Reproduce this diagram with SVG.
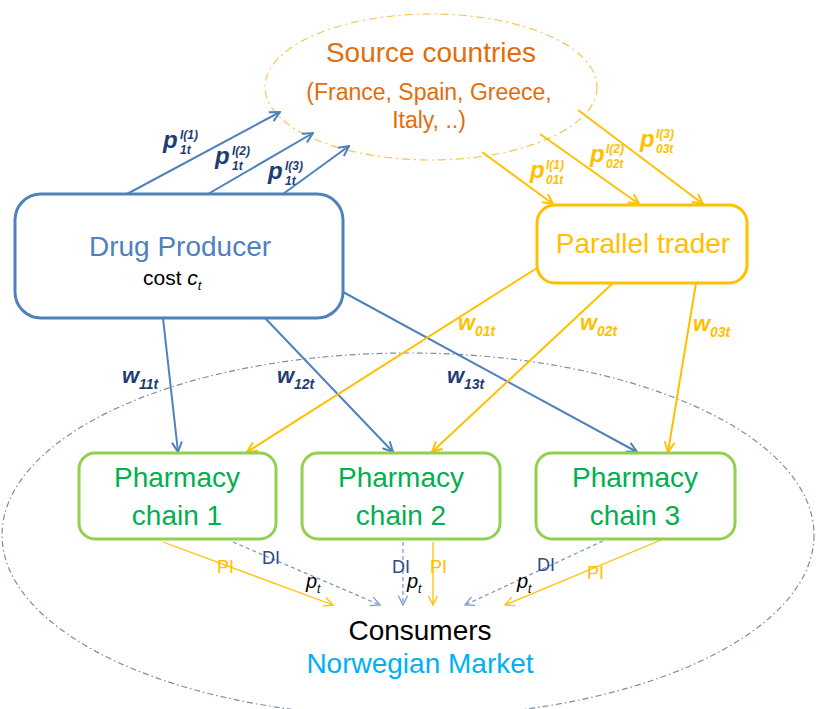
<svg xmlns="http://www.w3.org/2000/svg" width="816" height="709" viewBox="0 0 816 709">
<style>
text{font-family:"Liberation Sans",Arial,sans-serif}
.ttl{font-size:28px;text-anchor:middle}
.src{fill:#E46C0A}
.blue{fill:#4F81BD}
.yel{fill:#FFC000}
.grn{fill:#00B050}
.lb{font-weight:bold;font-style:italic}
.lbB{fill:#1F3D73}
.lbY{fill:#FFC000}
.sm{font-size:12px}
.cb{fill:none;stroke:#4F81BD;stroke-width:2}
.cy{fill:none;stroke:#FFC000;stroke-width:2}
.py{fill:none;stroke:#FFC000;stroke-width:1.3}
.di{fill:none;stroke:#7C9BD0;stroke-width:1.3;stroke-dasharray:4 3}
.box{fill:#fff;stroke-width:3}
</style>
<defs>
<marker id="ab" markerUnits="userSpaceOnUse" viewBox="0 0 12 12" refX="11" refY="6" markerWidth="12" markerHeight="12" orient="auto"><path d="M1,1 L11,6 L1,11" fill="none" stroke="#4F81BD" stroke-width="2"/></marker>
<marker id="ay" markerUnits="userSpaceOnUse" viewBox="0 0 12 12" refX="11" refY="6" markerWidth="12" markerHeight="12" orient="auto"><path d="M1,1 L11,6 L1,11" fill="none" stroke="#FFC000" stroke-width="2"/></marker>
<marker id="ays" markerUnits="userSpaceOnUse" viewBox="0 0 12 12" refX="11" refY="6" markerWidth="11" markerHeight="11" orient="auto"><path d="M1,1 L11,6 L1,11" fill="none" stroke="#FFC000" stroke-width="1.4"/></marker>
<marker id="ad" markerUnits="userSpaceOnUse" viewBox="0 0 12 12" refX="11" refY="6" markerWidth="11" markerHeight="11" orient="auto"><path d="M1,1 L11,6 L1,11" fill="none" stroke="#7C9BD0" stroke-width="1.4"/></marker>
</defs>
<rect width="816" height="709" fill="#fff"/>

<g id="market">
<ellipse cx="408" cy="535" rx="406" ry="182" fill="none" stroke="#7F8BA0" stroke-width="1.2" stroke-dasharray="6 3 1.5 3"/>
<text class="ttl" x="420" y="640" fill="#000">Consumers</text>
<text class="ttl" x="420" y="673" fill="#00B0F0">Norwegian Market</text>
</g>

<g id="source">
<ellipse cx="431" cy="87" rx="166" ry="73" fill="#fff" stroke="#F5C45A" stroke-width="1.2" stroke-dasharray="8 4 2 4"/>
<text class="ttl src" x="431" y="62">Source countries</text>
<text class="src" x="429" y="100" font-size="23" text-anchor="middle">(France, Spain, Greece,</text>
<text class="src" x="429" y="128" font-size="23" text-anchor="middle">Italy, ..)</text>
</g>

<g id="connectors">
<line class="cb" x1="127" y1="194" x2="280" y2="112" marker-end="url(#ab)"/>
<line class="cb" x1="208" y1="194" x2="313" y2="133" marker-end="url(#ab)"/>
<line class="cb" x1="283" y1="194" x2="349" y2="146" marker-end="url(#ab)"/>
<line class="cy" x1="482" y1="152" x2="553" y2="204" marker-end="url(#ay)"/>
<line class="cy" x1="540" y1="134" x2="639" y2="204" marker-end="url(#ay)"/>
<line class="cy" x1="578" y1="110" x2="703" y2="204" marker-end="url(#ay)"/>
<line class="cb" x1="163" y1="318" x2="178" y2="452" marker-end="url(#ab)"/>
<line class="cb" x1="265" y1="318" x2="393" y2="452" marker-end="url(#ab)"/>
<line class="cb" x1="343" y1="292" x2="637" y2="452" marker-end="url(#ab)"/>
<line class="cy" x1="537" y1="268" x2="247" y2="452" marker-end="url(#ay)"/>
<line class="cy" x1="613" y1="283" x2="432" y2="452" marker-end="url(#ay)"/>
<line class="cy" x1="696" y1="283" x2="668" y2="452" marker-end="url(#ay)"/>
<line class="py" x1="163" y1="542" x2="333" y2="605" marker-end="url(#ays)"/>
<line class="di" x1="233" y1="542" x2="380" y2="605" marker-end="url(#ad)"/>
<line class="di" x1="403" y1="542" x2="403" y2="605" marker-end="url(#ad)"/>
<line class="py" x1="433" y1="542" x2="433" y2="605" marker-end="url(#ays)"/>
<line class="di" x1="603" y1="541" x2="465" y2="605" marker-end="url(#ad)"/>
<line class="py" x1="661" y1="540" x2="505" y2="605" marker-end="url(#ays)"/>

<g class="lb lbB">
<text x="163" y="148" font-size="24">p</text><text class="sm" x="180" y="139">I(1)</text><text class="sm" x="180" y="154">1t</text>
<text x="215" y="164" font-size="24">p</text><text class="sm" x="232" y="155">I(2)</text><text class="sm" x="232" y="170">1t</text>
<text x="268" y="179" font-size="24">p</text><text class="sm" x="285" y="170">I(3)</text><text class="sm" x="285" y="185">1t</text>
<text x="122" y="383" font-size="22">w</text><text font-size="14" x="139" y="389">11t</text>
<text x="277" y="383" font-size="22">w</text><text font-size="14" x="294" y="389">12t</text>
<text x="447" y="383" font-size="22">w</text><text font-size="14" x="464" y="389">13t</text>
</g>
<g class="lb lbY">
<text x="530" y="178" font-size="24">p</text><text class="sm" x="546" y="169">I(1)</text><text class="sm" x="546" y="184">01t</text>
<text x="590" y="162" font-size="24">p</text><text class="sm" x="606" y="153">I(2)</text><text class="sm" x="606" y="168">02t</text>
<text x="640" y="147" font-size="24">p</text><text class="sm" x="656" y="138">I(3)</text><text class="sm" x="656" y="153">03t</text>
<text x="458" y="330" font-size="22">w</text><text font-size="14" x="475" y="336">01t</text>
<text x="580" y="330" font-size="22">w</text><text font-size="14" x="597" y="336">02t</text>
<text x="693" y="331" font-size="22">w</text><text font-size="14" x="710" y="337">03t</text>
</g>
<g font-size="18">
<text x="217" y="573" fill="#FFC000">PI</text>
<text x="262" y="564" fill="#2F4A7F">DI</text>
<text x="392" y="573" fill="#2F4A7F">DI</text>
<text x="430" y="573" fill="#FFC000">PI</text>
<text x="537" y="571" fill="#2F4A7F">DI</text>
<text x="587" y="579" fill="#FFC000">PI</text>
</g>
<g font-style="italic" fill="#000">
<text x="306" y="588" font-size="20">p</text><text x="317" y="593" font-size="12">t</text>
<text x="407" y="588" font-size="20">p</text><text x="418" y="593" font-size="12">t</text>
<text x="517" y="588" font-size="20">p</text><text x="528" y="593" font-size="12">t</text>
</g>
</g>

<g id="producer">
<rect class="box" x="15" y="194" width="328" height="124" rx="26" stroke="#4F81BD"/>
<text class="ttl blue" x="180" y="256">Drug Producer</text>
<text x="143" y="285" font-size="21" fill="#000">cost <tspan font-style="italic">c</tspan><tspan font-style="italic" font-size="13" dy="5">t</tspan></text>
</g>

<g id="trader">
<rect class="box" x="537" y="205" width="210" height="78" rx="18" stroke="#FFC000"/>
<text class="ttl yel" x="643" y="253">Parallel trader</text>
</g>

<g id="chain1">
<rect class="box" x="79" y="453" width="197" height="86" rx="16" stroke="#92D050"/>
<text class="ttl grn" x="177" y="487">Pharmacy</text>
<text class="ttl grn" x="177" y="525">chain 1</text>
</g>
<g id="chain2">
<rect class="box" x="302" y="453" width="198" height="86" rx="16" stroke="#92D050"/>
<text class="ttl grn" x="401" y="487">Pharmacy</text>
<text class="ttl grn" x="401" y="525">chain 2</text>
</g>
<g id="chain3">
<rect class="box" x="536" y="453" width="199" height="86" rx="16" stroke="#92D050"/>
<text class="ttl grn" x="635" y="487">Pharmacy</text>
<text class="ttl grn" x="635" y="525">chain 3</text>
</g>
</svg>
